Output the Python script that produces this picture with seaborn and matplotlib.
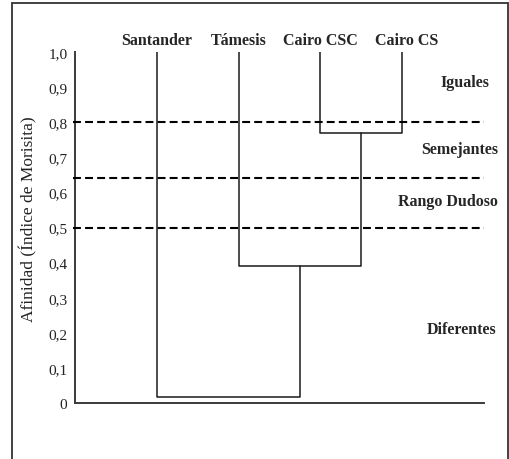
import matplotlib
matplotlib.use("Agg")
import matplotlib.pyplot as plt
import seaborn as sns
import pandas as pd
from matplotlib.patches import Rectangle

# ---- data ----
leaves = ["Santander", "Támesis", "Cairo CSC", "Cairo CS"]
leaf_pos = [1, 2, 3, 4]
# merges: (left cluster id, right cluster id, affinity); ids 0-3 are leaves, 4+ new clusters
merge_left = [2, 1, 0]
merge_right = [3, 4, 5]
merge_height = [0.77, 0.39, 0.017]
thresholds = [0.80, 0.64, 0.50]
zone_labels = ["Iguales", "Semejantes", "Rango Dudoso", "Diferentes"]
ytick_vals = [0, 0.1, 0.2, 0.3, 0.4, 0.5, 0.6, 0.7, 0.8, 0.9, 1.0]
ytick_labels = ["0", "0,1", "0,2", "0,3", "0,4", "0,5", "0,6", "0,7", "0,8", "0,9", "1,0"]
xtick_vals = [1, 2, 3, 4, 5]
ylabel = "Afinidad (Índice de Morisita)"

sns.set_style("white")
plt.rcParams["font.family"] = ["Liberation Serif", "DejaVu Serif"]

fig = plt.figure(figsize=(5.1, 4.6), dpi=100)
ax = fig.add_axes([75 / 510, 56 / 460, 409 / 510, 351 / 460])

# build dendrogram segments
pos = {i: p for i, p in enumerate(leaf_pos)}
hgt = {i: 1.0 for i in range(len(leaf_pos))}
rows = []
for k, (a, b, h) in enumerate(zip(merge_left, merge_right, merge_height)):
    cid = len(leaf_pos) + k
    xs = [pos[a], pos[a], pos[b], pos[b]]
    ys = [hgt[a], h, h, hgt[b]]
    for j, (xx, yy) in enumerate(zip(xs, ys)):
        rows.append({"seg": k, "order": j, "x": xx, "y": yy})
    pos[cid] = (pos[a] + pos[b]) / 2
    hgt[cid] = h
df = pd.DataFrame(rows)
sns.lineplot(data=df, x="x", y="y", units="seg", estimator=None, sort=False,
             color="#1a1a1a", linewidth=1.1, ax=ax, legend=False)

for t in thresholds:
    ax.hlines(t, -0.03, 5, colors="black", linewidth=1.5,
              linestyles=(0, (3.8, 2.0)), clip_on=False, zorder=3)

ax.set_xlim(0, 5)
ax.set_ylim(0, 1.0)
ax.set_xticks(xtick_vals)
ax.set_xticklabels([])
ax.set_yticks(ytick_vals)
ax.set_yticklabels(ytick_labels, fontsize=11, color="#222222")
ax.tick_params(axis="x", direction="out", length=9.5, width=1.2, color="black")
ax.tick_params(axis="y", direction="out", length=4.5, width=1.0, color="black", pad=1)
ax.set_xlabel("")
ax.set_ylabel(ylabel, fontsize=12.5, color="#222222")
ax.yaxis.set_label_coords(-0.092, 0.527)

for s in ["top", "right"]:
    ax.spines[s].set_visible(False)
for s in ["left", "bottom"]:
    ax.spines[s].set_color("#3a3a3a")
    ax.spines[s].set_linewidth(1.4)

# leaf labels
leaf_label_x = [0.995, 1.995, 2.995, 4.06]
for name, lx in zip(leaves, leaf_label_x):
    ax.text(lx, 1.035, name, ha="center", va="center", fontsize=11.5,
            fontweight="bold", clip_on=False)

# zone labels
zone_x = [4.77, 4.70, 4.56, 4.73]
zone_y = [0.915, 0.724, 0.575, 0.21]
for name, zx, zy in zip(zone_labels, zone_x, zone_y):
    ax.text(zx, zy, name, ha="center", va="center", fontsize=11.5,
            fontweight="bold", clip_on=False)

fig.patches.append(Rectangle((12 / 510, -0.05), 496 / 510, 1 - 4 / 460 + 0.05,
                             transform=fig.transFigure, fill=False,
                             edgecolor="#333333", linewidth=1.3))

fig.savefig("out.png", dpi=100)
